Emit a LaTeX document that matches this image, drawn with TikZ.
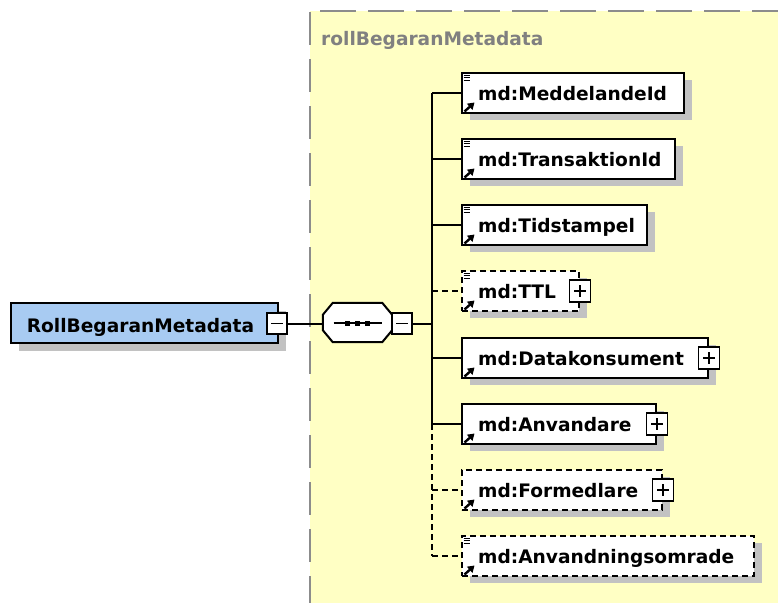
\documentclass[tikz,border=0pt]{standalone}
\usepackage{fontspec}
\setmainfont{DejaVu Sans}
\usetikzlibrary{shadows,calc,arrows.meta}
\definecolor{yel}{HTML}{FFFFC4}
\definecolor{rootblue}{HTML}{A8CBF2}
\definecolor{shgray}{HTML}{C2C2C2}
\definecolor{bordgray}{HTML}{8C8C8C}
\definecolor{lblgray}{HTML}{808080}
\newcommand\lineicon[1]{\draw[line width=1pt] ($(#1.north west)+(2.5,3)$) -- ++(6,0) ($(#1.north west)+(2.5,5.5)$) -- ++(6,0) ($(#1.north west)+(2.5,8)$) -- ++(6,0);}
\newcommand\arricon[1]{\draw[line width=2.4pt,-{Triangle[length=6.5pt,width=8pt]}] ($(#1.south west)+(3.5,-2.5)$) -- ++(10,-9);}
\newcommand\plussign[1]{\draw[line width=1.3pt] ($(#1.center)+(-6,0)$) -- ++(12,0) ($(#1.center)+(0,-6)$) -- ++(0,12);}
\newcommand\minussign[1]{\draw[line width=1.3pt] ($(#1.center)+(-6,0)$) -- ++(12,0);}
\tikzset{
  ln/.style={line width=2pt, black},
  optl/.style={dash pattern=on 6pt off 4pt},
  ebox/.style={draw=black, line width=2pt, fill=white, minimum height=40pt, inner sep=0pt, anchor=west,
    drop shadow={shadow xshift=8pt, shadow yshift=-7pt, fill=shgray, opacity=1}},
  lbl/.style={font=\bfseries\fontsize{18.6}{21}\selectfont, anchor=base west, inner sep=0pt},
  pm/.style={draw, fill=white, line width=1.5pt, minimum width=20pt, minimum height=21pt, inner sep=0pt},
}
\begin{document}
\begin{tikzpicture}[x=1pt,y=-1pt]
\useasboundingbox (0,0) rectangle (778,603);
% yellow group area
\fill[yel] (310,11) rectangle (778,603);
\draw[bordgray, line width=2pt, dash pattern=on 36pt off 12pt] (320,11) -- (778,11);
\draw[bordgray, line width=2pt, dash pattern=on 33pt off 14pt] (310,12) -- (310,603);
\node[lbl, text=lblgray] (glabel) at (321,45) {rollBegaranMetadata};

% root element
\node[draw=black, line width=2pt, fill=rootblue, minimum width=267pt, minimum height=40pt, inner sep=0pt,
  drop shadow={shadow xshift=8pt, shadow yshift=-8pt, fill=shgray, opacity=1}] (root) at (144.5,323) {};
\node[lbl, anchor=base] (roottxt) at (140.5,332.5) {RollBegaranMetadata};
\node[pm] (rootm) at (277,323.5) {};
\minussign{rootm}

% sequence compositor
\node[minimum width=69pt, minimum height=39pt, inner sep=0pt] (seq) at (357.5,322.5) {};
\draw[ln, fill=white] ($(seq.north west)+(10,0)$) -- ($(seq.north east)+(-10,0)$) -- ($(seq.north east)+(0,12)$)
  -- ($(seq.south east)+(0,-12)$) -- ($(seq.south east)+(-10,0)$) -- ($(seq.south west)+(10,0)$)
  -- ($(seq.south west)+(0,-12)$) -- ($(seq.north west)+(0,12)$) -- cycle;
\draw[line width=1.6pt] ($(seq.center)+(-24,0.5)$) -- ($(seq.center)+(24,0.5)$);
\foreach \dx in {-10,0,10} \fill ($(seq.center)+(\dx-2.5,-2)$) rectangle ++(5,5);
\node[pm] (seqm) at (402,323.5) {};
\minussign{seqm}

\draw[ln] (rootm.east) -- (seq.west |- rootm.east);
\coordinate (bus) at (432,323.5);
\draw[ln] (seqm.east) -- (bus);

% child elements
\node[ebox, minimum width=222pt] (n1) at (461,93) {};
\node[ebox, minimum width=213pt] (n2) at (461,159) {};
\node[ebox, minimum width=185pt] (n3) at (461,225) {};
\node[ebox, optl, minimum width=117pt] (n4) at (461,291) {};
\node[ebox, minimum width=246pt] (n5) at (461,358) {};
\node[ebox, minimum width=194pt] (n6) at (461,424) {};
\node[ebox, optl, minimum width=200pt] (n7) at (461,490) {};
\node[ebox, optl, minimum width=292pt] (n8) at (461,556) {};

\node[lbl] (t1) at ($(n1.west)+(17,7)$) {md:MeddelandeId};
\node[lbl] (t2) at ($(n2.west)+(17,7)$) {md:TransaktionId};
\node[lbl] (t3) at ($(n3.west)+(17,7)$) {md:Tidstampel};
\node[lbl] (t4) at ($(n4.west)+(17,7)$) {md:TTL};
\node[lbl] (t5) at ($(n5.west)+(17,7)$) {md:Datakonsument};
\node[lbl] (t6) at ($(n6.west)+(17,7)$) {md:Anvandare};
\node[lbl] (t7) at ($(n7.west)+(17,7)$) {md:Formedlare};
\node[lbl] (t8) at ($(n8.west)+(17,7)$) {md:Anvandningsomrade};

\foreach \n in {n1,n2,n3,n4,n8} {\lineicon{\n}}
\foreach \n in {n1,n2,n3,n4,n5,n6,n7,n8} {\arricon{\n}}

\node[pm, minimum height=22pt, minimum width=21pt] (p4) at (n4.east) {}; \plussign{p4}
\node[pm, minimum height=22pt, minimum width=21pt] (p5) at (n5.east) {}; \plussign{p5}
\node[pm, minimum height=22pt, minimum width=21pt] (p6) at (n6.east) {}; \plussign{p6}
\node[pm, minimum height=22pt, minimum width=21pt] (p7) at (n7.east) {}; \plussign{p7}

% connectors
\draw[ln] (bus |- n1.west) -- (bus |- n6.west);
\draw[ln, optl] (bus |- n6.west) -- (bus |- n8.west);
\foreach \n in {n1,n2,n3,n5,n6} {\draw[ln] (bus |- \n.west) -- (\n.west);}
\foreach \n in {n4,n7,n8} {\draw[ln, optl] (bus |- \n.west) -- (\n.west);}
\end{tikzpicture}
\end{document}
